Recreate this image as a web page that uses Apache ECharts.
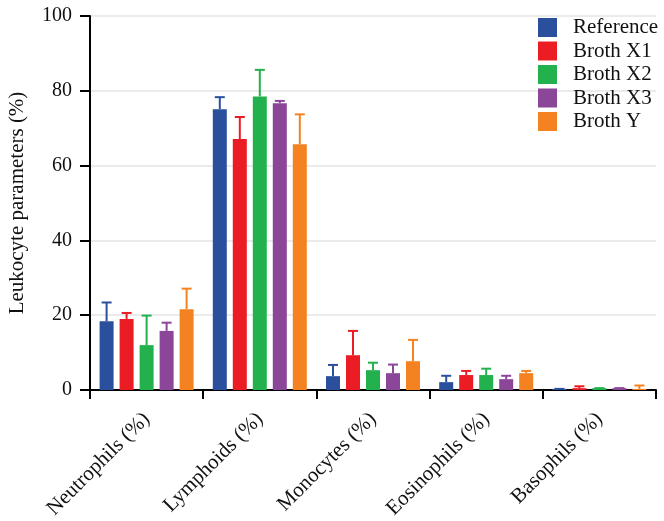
<!DOCTYPE html>
<html>
<head>
<meta charset="utf-8">
<script src="https://cdn.jsdelivr.net/npm/echarts@6/dist/echarts.min.js"></script>
<style>html,body{margin:0;padding:0;background:#fff;}#c{width:664px;height:521px;}</style>
</head>
<body>
<div id="c"></div>
<script>
const categories = ['Neutrophils (%)', 'Lymphoids (%)', 'Monocytes (%)', 'Eosinophils (%)', 'Basophils (%)'];
const seriesNames = ['Reference', 'Broth X1', 'Broth X2', 'Broth X3', 'Broth Y'];
const yTicks = [0, 20, 40, 60, 80, 100];

const referenceMean = [18.4, 75.1, 3.7, 2.1, 0.3];
const referenceErr  = [5.0, 3.2, 3.0, 1.7, 0.0];
const brothX1Mean   = [19.0, 67.1, 9.3, 4.0, 0.5];
const brothX1Err    = [1.6, 5.9, 6.5, 1.1, 0.5];
const brothX2Mean   = [12.0, 78.5, 5.3, 4.0, 0.5];
const brothX2Err    = [7.9, 7.1, 2.0, 1.7, 0.0];
const brothX3Mean   = [15.8, 76.7, 4.5, 2.9, 0.5];
const brothX3Err    = [2.2, 0.6, 2.3, 0.9, 0.0];
const brothYMean    = [21.6, 65.7, 7.7, 4.5, 0.3];
const brothYErr     = [5.5, 8.0, 5.7, 0.6, 0.9];

const means = [referenceMean, brothX1Mean, brothX2Mean, brothX3Mean, brothYMean];
const errs = [referenceErr, brothX1Err, brothX2Err, brothX3Err, brothYErr];
const colors = ['#2a4f9d', '#ec1c24', '#22b14c', '#8b4599', '#f58220'];

const FONT = "'Liberation Serif', 'Times New Roman', serif";
const BAR_W = 14, BAR_GAP = 6;

const series = [];
seriesNames.forEach((name, i) => {
  series.push({
    name: name,
    type: 'bar',
    data: means[i],
    barWidth: BAR_W,
    barGap: (BAR_GAP / BAR_W * 100).toFixed(2) + '%',
    itemStyle: { color: colors[i] },
    z: 2
  });
});
seriesNames.forEach((name, i) => {
  series.push({
    type: 'custom',
    name: name + ' err',
    data: categories.map((c, k) => [k, means[i][k], errs[i][k]]),
    z: 3,
    silent: true,
    renderItem: function (params, api) {
      const k = api.value(0), m = api.value(1), e = api.value(2);
      const p0 = api.coord([k, m]);
      const p1 = api.coord([k, m + e]);
      const off = (i - 2) * (BAR_W + BAR_GAP);
      const cx = p0[0] + off;
      const st = { stroke: colors[i], lineWidth: 2 };
      return {
        type: 'group',
        children: [
          { type: 'line', shape: { x1: cx, y1: p0[1], x2: cx, y2: p1[1] }, style: st },
          { type: 'line', shape: { x1: cx - 5, y1: p1[1], x2: cx + 5, y2: p1[1] }, style: st }
        ]
      };
    }
  });
});

const chart = echarts.init(document.getElementById('c'));
chart.setOption({
  animation: false,
  backgroundColor: '#fff',
  textStyle: { fontFamily: FONT },
  grid: { left: 90, top: 16, right: 8, bottom: 131, containLabel: false, outerBoundsMode: 'none' },
  legend: {
    data: seriesNames,
    orient: 'vertical',
    left: 533,
    top: 12,
    itemWidth: 19,
    itemHeight: 19,
    itemGap: 2.5,
    icon: 'rect',
    selectedMode: false,
    textStyle: { fontFamily: FONT, fontSize: 21, lineHeight: 19, color: '#111', padding: [0, 0, 0, 11] }
  },
  xAxis: {
    type: 'category',
    data: categories,
    axisLine: { lineStyle: { color: '#000', width: 2 } },
    axisTick: { show: true, length: 9, lineStyle: { color: '#000', width: 2 } },
    axisLabel: { rotate: 45, fontFamily: FONT, fontSize: 21, color: '#111', margin: 26 }
  },
  yAxis: {
    type: 'value',
    min: yTicks[0],
    max: yTicks[yTicks.length - 1],
    interval: yTicks[1] - yTicks[0],
    name: 'Leukocyte parameters (%)',
    nameLocation: 'middle',
    nameGap: 62,
    nameTextStyle: { fontFamily: FONT, fontSize: 21, color: '#111' },
    axisLine: { show: true, lineStyle: { color: '#000', width: 2 } },
    axisTick: { show: true, length: 10, lineStyle: { color: '#000', width: 2 } },
    axisLabel: { fontFamily: FONT, fontSize: 20, color: '#111', margin: 18 },
    splitLine: { show: true, lineStyle: { color: '#e4e4e4', width: 1.5 } }
  },
  series: series
});
</script>
</body>
</html>
